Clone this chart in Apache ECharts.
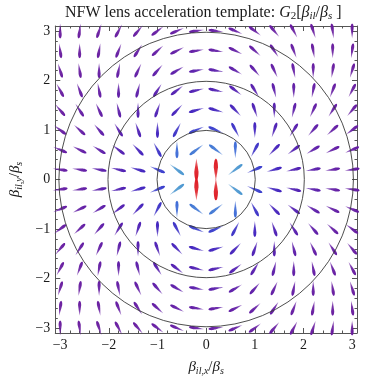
<!DOCTYPE html>
<html><head><meta charset="utf-8">
<script src="https://cdn.jsdelivr.net/npm/echarts@6/dist/echarts.min.js"></script>
<style>html,body{margin:0;padding:0;background:#fff}#c{width:379px;height:381px}</style>
</head><body><div id="c"></div>
<script>
// grid point coordinates
const xs = [-3.0,-2.6,-2.2,-1.8,-1.4,-1.0,-0.6,-0.2,0.2,0.6,1.0,1.4,1.8,2.2,2.6,3.0];
const ys = [3.0,2.6,2.2,1.8,1.4,1.0,0.6,0.2,-0.2,-0.6,-1.0,-1.4,-1.8,-2.2,-2.6,-3.0];
// glyph direction (degrees, counter-clockwise from +x), rows follow ys, columns follow xs
const angleRows = [
 [-90,-98,-108,-118,-130,-143,-157,-172,172,157,143,130,118,108,98,90],
 [-82,-90,-100,-111,-123,-138,-154,-171,171,154,138,123,111,100,90,82],
 [-73,-81,-90,-101,-115,-131,-150,-170,170,150,131,115,101,90,81,73],
 [-62,-69,-79,-90,-104,-122,-143,-167,167,143,122,104,90,79,69,62],
 [-50,-57,-65,-76,-90,-109,-134,-164,164,134,109,90,76,65,57,50],
 [-37,-42,-49,-58,-71,-90,-118,-157,157,118,90,71,58,49,42,37],
 [-23,-26,-31,-37,-46,-62,-90,-143,143,90,62,46,37,31,26,23],
 [-8,-9,-10,-13,-16,-23,-37,-90,90,37,23,16,13,10,9,8],
 [8,9,10,13,16,23,37,90,-90,-37,-23,-16,-13,-10,-9,-8],
 [23,26,31,37,46,62,90,143,-143,-90,-62,-46,-37,-31,-26,-23],
 [37,42,49,58,71,90,118,157,-157,-118,-90,-71,-58,-49,-42,-37],
 [50,57,65,76,90,109,134,164,-164,-134,-109,-90,-76,-65,-57,-50],
 [62,69,79,90,104,122,143,167,-167,-143,-122,-104,-90,-79,-69,-62],
 [73,81,90,101,115,131,150,170,-170,-150,-131,-115,-101,-90,-81,-73],
 [82,90,100,111,123,138,154,171,-171,-154,-138,-123,-111,-100,-90,-82],
 [90,98,108,118,130,143,157,172,-172,-157,-143,-130,-118,-108,-98,-90]
];
// glyph magnitude (estimated from colour), rows follow ys, columns follow xs
const magRows = [
 [0.62,0.65,0.68,0.72,0.75,0.78,0.81,0.82,0.82,0.81,0.78,0.75,0.72,0.68,0.65,0.62],
 [0.65,0.69,0.73,0.78,0.83,0.87,0.9,0.9,0.9,0.9,0.87,0.83,0.78,0.73,0.69,0.65],
 [0.68,0.73,0.8,0.85,0.9,0.97,1.0,1.05,1.05,1.0,0.97,0.9,0.85,0.8,0.73,0.68],
 [0.72,0.78,0.85,0.93,1.0,1.1,1.2,1.25,1.25,1.2,1.1,1.0,0.93,0.85,0.78,0.72],
 [0.75,0.83,0.9,1.0,1.15,1.3,1.5,1.6,1.6,1.5,1.3,1.15,1.0,0.9,0.83,0.75],
 [0.78,0.87,0.97,1.1,1.3,1.6,2.0,2.3,2.3,2.0,1.6,1.3,1.1,0.97,0.87,0.78],
 [0.81,0.9,1.0,1.2,1.5,2.0,3.0,3.3,3.3,3.0,2.0,1.5,1.2,1.0,0.9,0.81],
 [0.82,0.9,1.05,1.25,1.6,2.3,4.0,9,9,4.0,2.3,1.6,1.25,1.05,0.9,0.82],
 [0.82,0.9,1.05,1.25,1.6,2.3,4.0,9,9,4.0,2.3,1.6,1.25,1.05,0.9,0.82],
 [0.81,0.9,1.0,1.2,1.5,2.0,3.0,3.3,3.3,3.0,2.0,1.5,1.2,1.0,0.9,0.81],
 [0.78,0.87,0.97,1.1,1.3,1.6,2.0,2.3,2.3,2.0,1.6,1.3,1.1,0.97,0.87,0.78],
 [0.75,0.83,0.9,1.0,1.15,1.3,1.5,1.6,1.6,1.5,1.3,1.15,1.0,0.9,0.83,0.75],
 [0.72,0.78,0.85,0.93,1.0,1.1,1.2,1.25,1.25,1.2,1.1,1.0,0.93,0.85,0.78,0.72],
 [0.68,0.73,0.8,0.85,0.9,0.97,1.0,1.05,1.05,1.0,0.97,0.9,0.85,0.8,0.73,0.68],
 [0.65,0.69,0.73,0.78,0.83,0.87,0.9,0.9,0.9,0.9,0.87,0.83,0.78,0.73,0.69,0.65],
 [0.62,0.65,0.68,0.72,0.75,0.78,0.81,0.82,0.82,0.81,0.78,0.75,0.72,0.68,0.65,0.62]
];
const circleCenter = [0, 0];
const circleRadii = [1, 2, 3];
const majorTicks = [-3, -2, -1, 0, 1, 2, 3];
const tickLabels = ['−3', '−2', '−1', '0', '1', '2', '3'];
const minorTicks = [-2.8,-2.6,-2.4,-2.2,-1.8,-1.6,-1.4,-1.2,-0.8,-0.6,-0.4,-0.2,0.2,0.4,0.6,0.8,1.2,1.4,1.6,1.8,2.2,2.4,2.6,2.8];

// ---- styling helpers ----
const colorStops = [
  [0.6, [106, 26, 156]],
  [0.9, [96, 26, 164]],
  [1.2, [80, 28, 176]],
  [1.6, [64, 34, 190]],
  [2.3, [56, 60, 204]],
  [3.0, [60, 106, 214]],
  [4.0, [74, 150, 208]],
  [5.9, [74, 150, 208]],
  [6.0, [222, 28, 36]]
];
function colorFor(m) {
  if (m <= colorStops[0][0]) return colorStops[0][1];
  for (let i = 1; i < colorStops.length; i++) {
    if (m <= colorStops[i][0]) {
      const a = colorStops[i-1], b = colorStops[i];
      const t = (m - a[0]) / (b[0] - a[0]);
      return a[1].map((v, k) => Math.round(v + (b[1][k] - v) * t));
    }
  }
  return colorStops[colorStops.length-1][1];
}
const rgba = (c, a) => 'rgba(' + c.join(',') + ',' + a + ')';

const glyphData = [];
ys.forEach((y, r) => xs.forEach((x, c) => glyphData.push([x, y, angleRows[r][c], magRows[r][c]])));
const circleData = circleRadii.map(r => [circleCenter[0], circleCenter[1], r]);

function renderGlyph(params, api) {
  const p = api.coord([api.value(0), api.value(1)]);
  const ang = api.value(2), mag = api.value(3);
  const big = mag >= 6;
  const L = big ? 22 : 15 + (mag - 0.6) * 0.9;
  const w = big ? 4.2 : 3.1;
  const s0 = big ? 0.6 : 0.7;
  const t = ang * Math.PI / 180;
  const ux = Math.cos(t), uy = -Math.sin(t);
  const vx = -uy, vy = ux;
  const N = 20, left = [], right = [];
  for (let i = 0; i <= N; i++) {
    const s = i / N;
    let h;
    if (s <= s0) h = (w / 2) * Math.pow(s / s0, 0.9);
    else { const q = (s - s0) / (1 - s0); h = (w / 2) * Math.sqrt(Math.max(0, 1 - q * q)); }
    const a = -L / 2 + s * L;
    left.push([p[0] + ux * a + vx * h, p[1] + uy * a + vy * h]);
    right.push([p[0] + ux * a - vx * h, p[1] + uy * a - vy * h]);
  }
  const pts = left.concat(right.slice(1, N).reverse());
  const col = colorFor(mag);
  const x0 = p[0] - ux * L / 2, y0 = p[1] - uy * L / 2, x1 = p[0] + ux * L / 2, y1 = p[1] + uy * L / 2;
  const fill = new echarts.graphic.LinearGradient(x0, y0, x1, y1, [
    { offset: 0, color: rgba(col, 0.5) },
    { offset: 0.4, color: rgba(col, 0.9) },
    { offset: 1, color: rgba(col, 1) }
  ], true);
  return { type: 'polygon', shape: { points: pts }, style: { fill: fill } };
}
function renderCircle(params, api) {
  const c = api.coord([api.value(0), api.value(1)]);
  const r = api.value(2);
  const s = api.size([r, r]);
  return { type: 'circle', shape: { cx: c[0], cy: c[1], r: (s[0] + s[1]) / 2 },
           style: { fill: 'none', stroke: '#3a3a3a', lineWidth: 0.9 } };
}

const serif = 'Liberation Serif';
const frameColor = '#555';
const txt = '#1a1a1a';
const labelFmt = v => { const i = majorTicks.indexOf(Math.round(v)); return i >= 0 ? tickLabels[i] : ''; };
const nameRich = {
  b: { fontFamily: serif, fontStyle: 'italic', fontWeight: 'normal', fontSize: 15, color: txt, lineHeight: 18 },
  n: { fontFamily: serif, fontWeight: 'normal', fontSize: 15, color: txt, lineHeight: 18 },
  s: { fontFamily: serif, fontStyle: 'italic', fontWeight: 'normal', fontSize: 10, color: txt, lineHeight: 10, verticalAlign: 'bottom' }
};
function makeAxis(dim, pos, ticks, len, withLabel, line, name) {
  const ax = {
    type: 'value', min: -3.1, max: 3.1, position: pos, gridIndex: 0,
    axisLine: { show: line, onZero: false, lineStyle: { color: frameColor, width: 1 } },
    axisTick: { show: true, inside: true, length: len, customValues: ticks, lineStyle: { color: frameColor, width: 1 } },
    axisLabel: { show: withLabel, customValues: majorTicks, formatter: labelFmt, fontFamily: serif, fontSize: 14, color: txt, margin: 5 },
    splitLine: { show: false }
  };
  if (name) {
    ax.name = name; ax.nameLocation = 'middle';
    ax.nameTextStyle = { rich: nameRich };
    ax.nameGap = dim === 'x' ? 25 : 26;
  }
  return ax;
}

const chart = echarts.init(document.getElementById('c'), null, { renderer: 'canvas' });
chart.setOption({
  animation: false,
  backgroundColor: '#fff',
  title: {
    text: '{n|NFW lens acceleration template: }{i|G}{s|2}{n|[}{i|β}{si|il}{n|/}{i|β}{si|s}{n| ]}',
    left: 60, top: -2,
    textStyle: { fontWeight: 'normal', rich: {
      n: { fontFamily: serif, fontWeight: 'normal', fontSize: 16, color: txt, lineHeight: 19 },
      i: { fontFamily: serif, fontStyle: 'italic', fontWeight: 'normal', fontSize: 16, color: txt, lineHeight: 19 },
      s: { fontFamily: serif, fontWeight: 'normal', fontSize: 11, color: txt, lineHeight: 10, verticalAlign: 'bottom' },
      si: { fontFamily: serif, fontStyle: 'italic', fontWeight: 'normal', fontSize: 11, color: txt, lineHeight: 10, verticalAlign: 'bottom' }
    } }
  },
  grid: { left: 50, right: 22, top: 26, bottom: 45, containLabel: false },
  xAxis: [
    makeAxis('x', 'bottom', majorTicks, 5, true, true, '{b|β}{s|il,x}{n|/}{b|β}{s|s}'),
    makeAxis('x', 'bottom', minorTicks, 2.5, false, false),
    makeAxis('x', 'top', majorTicks, 5, false, true),
    makeAxis('x', 'top', minorTicks, 2.5, false, false)
  ],
  yAxis: [
    makeAxis('y', 'left', majorTicks, 5, true, true, '{b|β}{s|il,y}{n|/}{b|β}{s|s}'),
    makeAxis('y', 'left', minorTicks, 2.5, false, false),
    makeAxis('y', 'right', majorTicks, 5, false, true),
    makeAxis('y', 'right', minorTicks, 2.5, false, false)
  ],
  series: [
    { type: 'custom', xAxisIndex: 0, yAxisIndex: 0, renderItem: renderGlyph, data: glyphData, z: 2, silent: true },
    { type: 'custom', xAxisIndex: 0, yAxisIndex: 0, renderItem: renderCircle, data: circleData, z: 3, silent: true }
  ]
});
</script></body></html>
